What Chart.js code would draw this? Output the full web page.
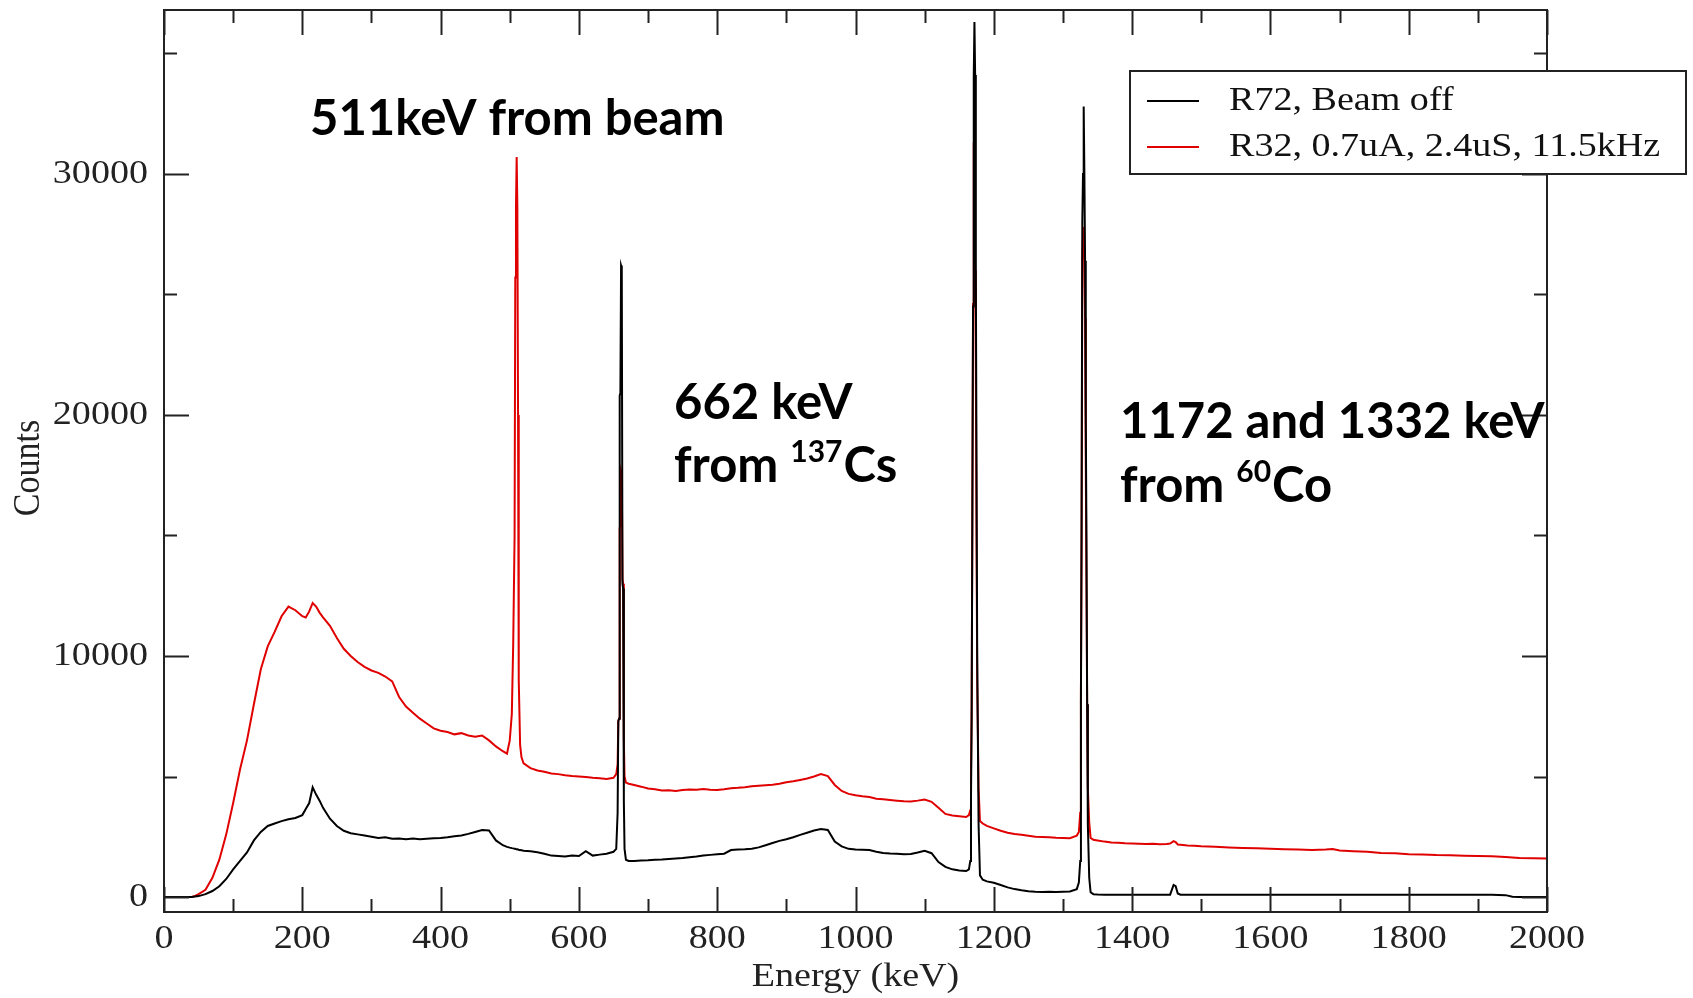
<!DOCTYPE html>
<html>
<head>
<meta charset="utf-8">
<title>Energy spectrum - R72 / R32</title>
<script src="https://cdn.jsdelivr.net/npm/chart.js@4.4.1/dist/chart.umd.min.js"></script>
<style>
  html, body { margin: 0; padding: 0; background: #fff; }
  #wrap { width: 1693px; height: 998px; }
</style>
</head>
<body>
<div id="wrap"><canvas id="spectrum" width="1693" height="998"></canvas></div>
<script>
// Channel energies (keV), finer around the photopeaks
const energyKeV = [
  0, 10, 20, 30, 40, 45, 50, 60, 70, 80, 90, 100, 110, 120, 130, 140, 150, 160, 170, 180, 190, 200, 205, 210, 215, 220, 225, 230, 240, 250,
  260, 270, 280, 290, 300, 310, 320, 330, 340, 350, 360, 370, 380, 390, 400, 410, 420, 430, 440, 450, 460, 470, 480, 490, 496,
  500, 503, 505, 507, 508, 509, 510, 511, 512, 513, 515, 517, 520,
  530, 540, 550, 560, 570, 580, 590, 600, 610, 620, 630, 640, 650,
  654, 656, 657, 658, 659, 660, 661, 662, 663, 664, 665, 666, 668, 672,
  680, 690, 700, 710, 720, 730, 740, 750, 760, 770, 780, 790, 800, 810, 820, 830, 840, 850, 860, 870, 880, 890, 900,
  910, 920, 930, 940, 950, 960, 970, 980, 990, 1000, 1010, 1020, 1030, 1040, 1050, 1060, 1070, 1080, 1090, 1100, 1110, 1120, 1130, 1140, 1150, 1160,
  1164, 1166, 1167, 1168, 1169, 1170, 1171, 1172, 1173, 1174, 1175, 1176, 1178, 1180, 1184,
  1190, 1200, 1210, 1220, 1230, 1240, 1250, 1260, 1270, 1280, 1290, 1300, 1310, 1320,
  1323, 1325, 1326, 1327, 1328, 1329, 1330, 1331, 1332, 1333, 1334, 1335, 1336, 1338, 1340, 1344,
  1350, 1360, 1370, 1380, 1390, 1400, 1410, 1420, 1430, 1440, 1450, 1455, 1460, 1463, 1466, 1470,
  1480, 1490, 1500, 1520, 1540, 1560, 1580, 1600, 1620, 1640, 1660, 1680, 1690, 1700, 1720, 1740, 1760, 1780, 1800,
  1820, 1840, 1860, 1880, 1900, 1920, 1940, 1950, 1960, 1980, 2000
];

// R72, beam off
const beamOffCounts = [
  0, 0, 0, 0, 0, 20, 40, 120, 250, 450, 750, 1150, 1500, 1850, 2350, 2700, 2950, 3050, 3150, 3230, 3280, 3400, 3650, 3900, 4550, 4250, 4000, 3700, 3250, 2950,
  2750, 2650, 2600, 2550, 2500, 2450, 2480, 2420, 2430, 2400, 2430, 2400, 2420, 2440, 2450, 2480, 2520, 2550, 2620, 2700, 2780, 2760, 2350, 2150, 2080,
  2050, 2030, 2020, 2000, 2000, 1990, 1980, 1980, 1970, 1960, 1950, 1940, 1920,
  1900, 1860, 1800, 1720, 1700, 1680, 1720, 1700, 1900, 1720, 1760, 1800, 1880,
  2000, 3500, 7300, 7400, 20800, 20900, 26200, 26100, 13000, 12800, 4000, 2000, 1550, 1500,
  1500, 1520, 1530, 1550, 1560, 1580, 1600, 1620, 1650, 1680, 1720, 1750, 1780, 1800, 1950, 1970, 1980, 2000, 2060, 2150, 2240, 2330, 2400,
  2480, 2580, 2670, 2760, 2820, 2780, 2300, 2100, 2000, 1970, 1960, 1950, 1880, 1830, 1810, 1800, 1780, 1790, 1850, 1920, 1820, 1450, 1250, 1150, 1100, 1080,
  1150, 1500, 4000, 7500, 16000, 24500, 34000, 36300, 34100, 26000, 18000, 10000, 3000, 900, 720,
  650, 590, 500, 400, 330, 280, 240, 220, 210, 220, 210, 220, 230, 330,
  600, 1500, 8000, 16000, 28000, 30000, 32800, 30000, 26400, 20000, 14800, 8000, 3000, 800, 200, 120,
  110, 100, 100, 100, 100, 100, 100, 100, 100, 100, 100, 100, 500, 450, 150, 100,
  100, 100, 100, 100, 100, 100, 100, 100, 100, 100, 100, 100, 100, 100, 100, 100, 100, 100, 100,
  100, 100, 100, 100, 100, 100, 80, 10, 0, 0, 0
];

// R32, 0.7uA, 2.4uS, 11.5kHz
const beamOnCounts = [
  0, 0, 0, 0, 0, 50, 120, 300, 800, 1550, 2600, 3900, 5300, 6500, 8000, 9450, 10400, 11000, 11650, 12050, 11900, 11650, 11600, 11850, 12200, 12050, 11800, 11600, 11250, 10750,
  10300, 10000, 9750, 9550, 9400, 9300, 9150, 8950, 8300, 7900, 7650, 7400, 7200, 7000, 6900, 6850, 6750, 6800, 6700, 6650, 6700, 6500, 6250, 6050, 5950,
  6500, 7600, 10500, 15000, 25700, 28600, 30700, 28600, 20000, 9000, 6300, 5800, 5550,
  5350, 5250, 5200, 5130, 5100, 5050, 5020, 5000, 4980, 4950, 4930, 4900, 4950,
  5100, 5500, 7300, 7400, 15300, 15400, 17700, 17600, 13200, 13000, 6500, 5000, 4750, 4700,
  4650, 4580, 4500, 4470, 4420, 4430, 4400, 4440, 4460, 4450, 4480, 4450, 4440, 4470, 4510, 4530, 4560, 4600, 4620, 4640, 4660, 4700, 4760,
  4800, 4860, 4920, 5000, 5100, 5020, 4650, 4400, 4280, 4220, 4180, 4150, 4080, 4060, 4030, 4000, 3970, 3960, 4000, 4050, 3950, 3700, 3450, 3380, 3350, 3320,
  3400, 3600, 5000, 8000, 16000, 24600, 31300, 30000, 26000, 22000, 15000, 9000, 4500, 3150, 3050,
  2950, 2850, 2750, 2670, 2620, 2580, 2540, 2500, 2490, 2480, 2460, 2450, 2440, 2550,
  2700, 3500, 8500, 15000, 26500, 27500, 27800, 26500, 24000, 18000, 13000, 8000, 4500, 3100, 2450, 2380,
  2350, 2300, 2260, 2250, 2230, 2220, 2210, 2200, 2210, 2190, 2200, 2220, 2320, 2280, 2180, 2170,
  2140, 2130, 2110, 2090, 2060, 2040, 2020, 2000, 1980, 1970, 1950, 1970, 1990, 1930, 1900, 1880, 1830, 1820, 1780,
  1770, 1740, 1730, 1710, 1700, 1690, 1660, 1640, 1620, 1610, 1600
];

const seriesLabels = ['R72, Beam off', 'R32, 0.7uA, 2.4uS, 11.5kHz'];
const xTicks = [0, 200, 400, 600, 800, 1000, 1200, 1400, 1600, 1800, 2000];
const yTicks = [0, 10000, 20000, 30000];

const SERIF = '34px "Liberation Serif", "DejaVu Serif", serif';
const TEXT_STRETCH = 1.12;   // graph lettering is a little wide
const FRAME = '#222';

function wideText(ctx, text, x, y, align) {
  ctx.save();
  ctx.translate(x, y);
  ctx.scale(TEXT_STRETCH, 1);
  ctx.textAlign = align;
  ctx.fillText(text, 0, 0);
  ctx.restore();
}

// "from ¹³⁷Cs" style line: plain, superscript, plain
function supLine(ctx, x, y, before, sup, after, size) {
  ctx.textAlign = 'left';
  ctx.textBaseline = 'alphabetic';
  ctx.font = 'bold ' + size + 'px Lato, "Liberation Sans", sans-serif';
  ctx.fillText(before, x, y);
  x += ctx.measureText(before).width;
  ctx.font = 'bold ' + Math.round(size * 0.62) + 'px Lato, "Liberation Sans", sans-serif';
  ctx.fillText(sup, x, y - size * 0.4);
  x += ctx.measureText(sup).width + 1;
  ctx.font = 'bold ' + size + 'px Lato, "Liberation Sans", sans-serif';
  ctx.fillText(after, x, y);
}

const spectrumFrame = {
  id: 'spectrumFrame',
  afterDatasetsDraw(chart) {
    const { ctx, chartArea: a, scales: { x, y } } = chart;
    ctx.save();

    // box round the plot
    ctx.strokeStyle = FRAME;
    ctx.lineWidth = 2;
    ctx.strokeRect(a.left, a.top, a.right - a.left, a.bottom - a.top);

    // inward ticks on all four sides
    const major = 25, minor = 13;
    const xStep = xTicks[1] - xTicks[0];
    const yStep = yTicks[1] - yTicks[0];
    ctx.beginPath();
    xTicks.forEach(v => {
      [[v, major], [v + xStep / 2, minor]].forEach(([t, len]) => {
        if (t > x.max) return;
        const px = Math.round(x.getPixelForValue(t)) + 0.5;
        ctx.moveTo(px, a.bottom); ctx.lineTo(px, a.bottom - len);
        ctx.moveTo(px, a.top); ctx.lineTo(px, a.top + len);
      });
    });
    yTicks.forEach(v => {
      [[v, major], [v + yStep / 2, minor]].forEach(([t, len]) => {
        if (t > y.max) return;
        const py = Math.round(y.getPixelForValue(t)) + 0.5;
        ctx.moveTo(a.left, py); ctx.lineTo(a.left + len, py);
        ctx.moveTo(a.right, py); ctx.lineTo(a.right - len, py);
      });
    });
    ctx.stroke();

    // tick labels
    ctx.fillStyle = '#222';
    ctx.font = SERIF;
    ctx.textBaseline = 'middle';
    xTicks.forEach(v => wideText(ctx, String(v), x.getPixelForValue(v), a.bottom + 27, 'center'));
    yTicks.forEach(v => wideText(ctx, String(v), a.left - 16, y.getPixelForValue(v), 'right'));

    // axis titles
    wideText(ctx, 'Energy (keV)', (a.left + a.right) / 2, 977, 'center');
    ctx.save();
    ctx.translate(29, (a.top + a.bottom) / 2 + 7);
    ctx.rotate(-Math.PI / 2);
    ctx.scale(1, TEXT_STRETCH);
    ctx.textAlign = 'center';
    ctx.fillText('Counts', 0, 0);
    ctx.restore();

    // legend box
    const lg = { left: 1130, top: 71, width: 556, height: 103 };
    ctx.fillStyle = '#fff';
    ctx.fillRect(lg.left, lg.top, lg.width, lg.height);
    ctx.strokeStyle = FRAME;
    ctx.lineWidth = 2;
    ctx.strokeRect(lg.left, lg.top, lg.width, lg.height);
    chart.data.datasets.forEach((ds, i) => {
      const ly = 101 + i * 46;
      ctx.strokeStyle = ds.borderColor;
      ctx.lineWidth = 2;
      ctx.beginPath();
      ctx.moveTo(1147, ly); ctx.lineTo(1199, ly);
      ctx.stroke();
      ctx.fillStyle = '#111';
      ctx.font = SERIF;
      ctx.textBaseline = 'middle';
      wideText(ctx, ds.label, 1229, ly, 'left');
    });

    // peak notes
    ctx.fillStyle = '#000';
    ctx.textBaseline = 'alphabetic';
    ctx.textAlign = 'left';
    ctx.font = 'bold 49px Lato, "Liberation Sans", sans-serif';
    ctx.fillText('511keV from beam', 310, 135);
    ctx.fillText('662 keV', 674, 419);
    supLine(ctx, 674, 482, 'from ', '137', 'Cs', 49);
    ctx.font = 'bold 49px Lato, "Liberation Sans", sans-serif';
    ctx.fillText('1172 and 1332 keV', 1120, 438);
    supLine(ctx, 1120, 502, 'from ', '60', 'Co', 49);

    ctx.restore();
  }
};

const toPoints = counts => energyKeV.map((e, i) => ({ x: e, y: counts[i] }));

const spectrumChart = new Chart(document.getElementById('spectrum').getContext('2d'), {
  type: 'line',
  data: {
    datasets: [{
      label: seriesLabels[0],
      data: toPoints(beamOffCounts),
      borderColor: '#000000',
      borderWidth: 2,
      pointRadius: 0,
      tension: 0,
      fill: false,
    }, {
      label: seriesLabels[1],
      data: toPoints(beamOnCounts),
      borderColor: '#e00000',
      borderWidth: 2,
      pointRadius: 0,
      tension: 0,
      fill: false,
    }]
  },
  options: {
    responsive: false,
    animation: false,
    devicePixelRatio: 1,
    layout: { padding: { left: 164, right: 146, top: 10, bottom: 86 } },
    plugins: {
      legend: { display: false },
      tooltip: { enabled: false }
    },
    scales: {
      x: { type: 'linear', min: 0, max: 2000, display: false },
      y: { type: 'linear', min: -620, max: 36800, display: false }
    }
  },
  plugins: [spectrumFrame]
});
</script>
</body>
</html>
